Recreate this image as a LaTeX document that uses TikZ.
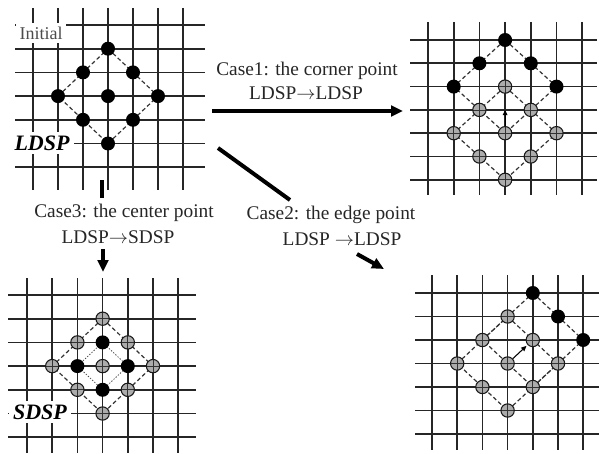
\documentclass[tikz,border=0pt]{standalone}
\usepackage{fontspec}
\setmainfont{Liberation Serif}
\usetikzlibrary{arrows.meta,calc}
\newcommand{\pgrid}[8]{%
  \foreach \i in {0,...,6}{%
    \draw[gridline] ({#1+\i*#2},#7) -- ({#1+\i*#2},#8);
    \draw[gridline] (#5,{#3+\i*#4}) -- (#6,{#3+\i*#4});
  }}
\newcommand{\pcoords}[5]{%
  \foreach \i in {0,...,6}{\foreach \j in {0,...,6}{%
    \coordinate (#1-\i-\j) at ({#2+\i*#3},{#4+\j*#5});}}}
\begin{document}
\begin{tikzpicture}[x=0.75pt,y=-0.75pt,
  gridline/.style={line width=1.3pt, black!85},
  diag/.style={line width=0.9pt, black!80, dash pattern=on 3pt off 2pt},
  fine/.style={line width=0.6pt, black!70, dash pattern=on 1pt off 1.2pt},
  blackpt/.style={circle, fill=black, inner sep=0pt, minimum size=10.5pt},
  hatchpt/.style={circle, draw=black!90, fill=gray!65, line width=0.8pt, inner sep=0pt, minimum size=10pt,
    path picture={\draw[black!80,line width=0.6pt]
      (path picture bounding box.north) -- (path picture bounding box.south)
      (path picture bounding box.west) -- (path picture bounding box.east);}},
  smallarrow/.style={line width=0.8pt, -{Triangle[length=4pt,width=3.5pt]}},
  bigarrow/.style={line width=3pt, -{Triangle[length=9pt,width=8pt]}},
  bigline/.style={line width=3pt},
  lbl/.style={font=\fontsize{14.5}{17}\selectfont, inner sep=1pt, text=black!85},
  tag/.style={font=\fontsize{16.5}{19}\selectfont\bfseries\itshape, fill=white, inner sep=3pt},
]
\useasboundingbox (0,0) rectangle (599,453);

% ---------- grids ----------
\pgrid{33}{25}{25}{23.7}{15}{205}{8}{190}
\pgrid{428}{25.7}{40}{23.3}{410}{597}{22}{195}
\pgrid{27}{25.2}{295}{23.7}{8}{196}{278}{453}
\pgrid{432}{25.2}{293}{23.5}{415}{599}{275}{450}

\pcoords{A}{33}{25}{25}{23.7}
\pcoords{B}{428}{25.7}{40}{23.3}
\pcoords{C}{27}{25.2}{295}{23.7}
\pcoords{D}{432}{25.2}{293}{23.5}

% ---------- panel 1: initial LDSP ----------
\node[font=\fontsize{13.5}{16}\selectfont, text=black!70, fill=white, inner sep=3pt] (init) at (41,33) {Initial};
\node[tag] (ldsp) at (42,143) {LDSP};
\draw[diag] (A-3-1) -- (A-5-3) -- (A-3-5) -- (A-1-3) -- cycle;
\foreach \p in {3-1,2-2,4-2,1-3,3-3,5-3,2-4,4-4,3-5}
  \node[blackpt] (a\p) at (A-\p) {};

% ---------- panel 2: corner point ----------
\draw[diag] (B-3-0) -- (B-5-2) -- (B-3-4) -- (B-1-2) -- cycle;
\draw[diag] (B-3-2) -- (B-5-4) -- (B-3-6) -- (B-1-4) -- cycle;
\foreach \p in {3-2,2-3,4-3,1-4,3-4,5-4,2-5,4-5,3-6}
  \node[hatchpt] (b\p) at (B-\p) {};
\foreach \p in {3-0,2-1,4-1,1-2,5-2}
  \node[blackpt] (b\p) at (B-\p) {};
\draw[smallarrow] (b3-4) -- (B-3-3);

% ---------- panel 3: center point ----------
\node[tag] (sdsp) at (40,412) {SDSP};
\draw[diag] (C-3-1) -- (C-5-3) -- (C-3-5) -- (C-1-3) -- cycle;
\draw[fine] (C-3-2) -- (C-4-3) -- (C-3-4) -- (C-2-3) -- cycle;
\foreach \p in {3-1,2-2,4-2,1-3,3-3,5-3,2-4,4-4,3-5}
  \node[hatchpt] (c\p) at (C-\p) {};
\foreach \p in {3-2,2-3,4-3,3-4}
  \node[blackpt] (c\p) at (C-\p) {};

% ---------- panel 4: edge point ----------
\draw[diag] (D-3-1) -- (D-5-3) -- (D-3-5) -- (D-1-3) -- cycle;
\draw[diag] (D-4-0) -- (D-6-2) -- (D-4-4) -- (D-2-2) -- cycle;
\foreach \p in {3-1,2-2,4-2,1-3,3-3,5-3,2-4,4-4,3-5}
  \node[hatchpt] (d\p) at (D-\p) {};
\foreach \p in {4-0,5-1,6-2}
  \node[blackpt] (d\p) at (D-\p) {};
\draw[smallarrow] (d3-3) -- ($(D-3-3)!0.75!(D-4-2)$);

% ---------- case labels ----------
\node[lbl] (c1a) at (307,71) {Case1: the corner point};
\node[lbl] (c1b) at (306,93) {LDSP$\rightarrow$LDSP};
\node[lbl] (c2a) at (331,215) {Case2: the edge point};
\node[lbl] (c2b) at (342,239) {LDSP $\rightarrow$LDSP};
\node[lbl] (c3a) at (124,213) {Case3: the center point};
\node[lbl] (c3b) at (118,237) {LDSP$\rightarrow$SDSP};

% ---------- case arrows ----------
\coordinate (s1) at (212,111);
\coordinate (e1) at (403,111);
\draw[bigarrow] (s1) -- (e1);
\coordinate (s2) at (218,148);
\coordinate (m2) at (290,200);
\draw[bigline] (s2) -- (m2);
\coordinate (s2b) at (357,254);
\coordinate (e2) at (384,269);
\draw[bigarrow] (s2b) -- (e2);
\coordinate (s3) at (102,180);
\coordinate (m3) at (102,198);
\draw[bigline] (s3) -- (m3);
\coordinate (s3b) at (103,249);
\coordinate (e3) at (103,272);
\draw[bigarrow] (s3b) -- (e3);
\end{tikzpicture}
\end{document}
